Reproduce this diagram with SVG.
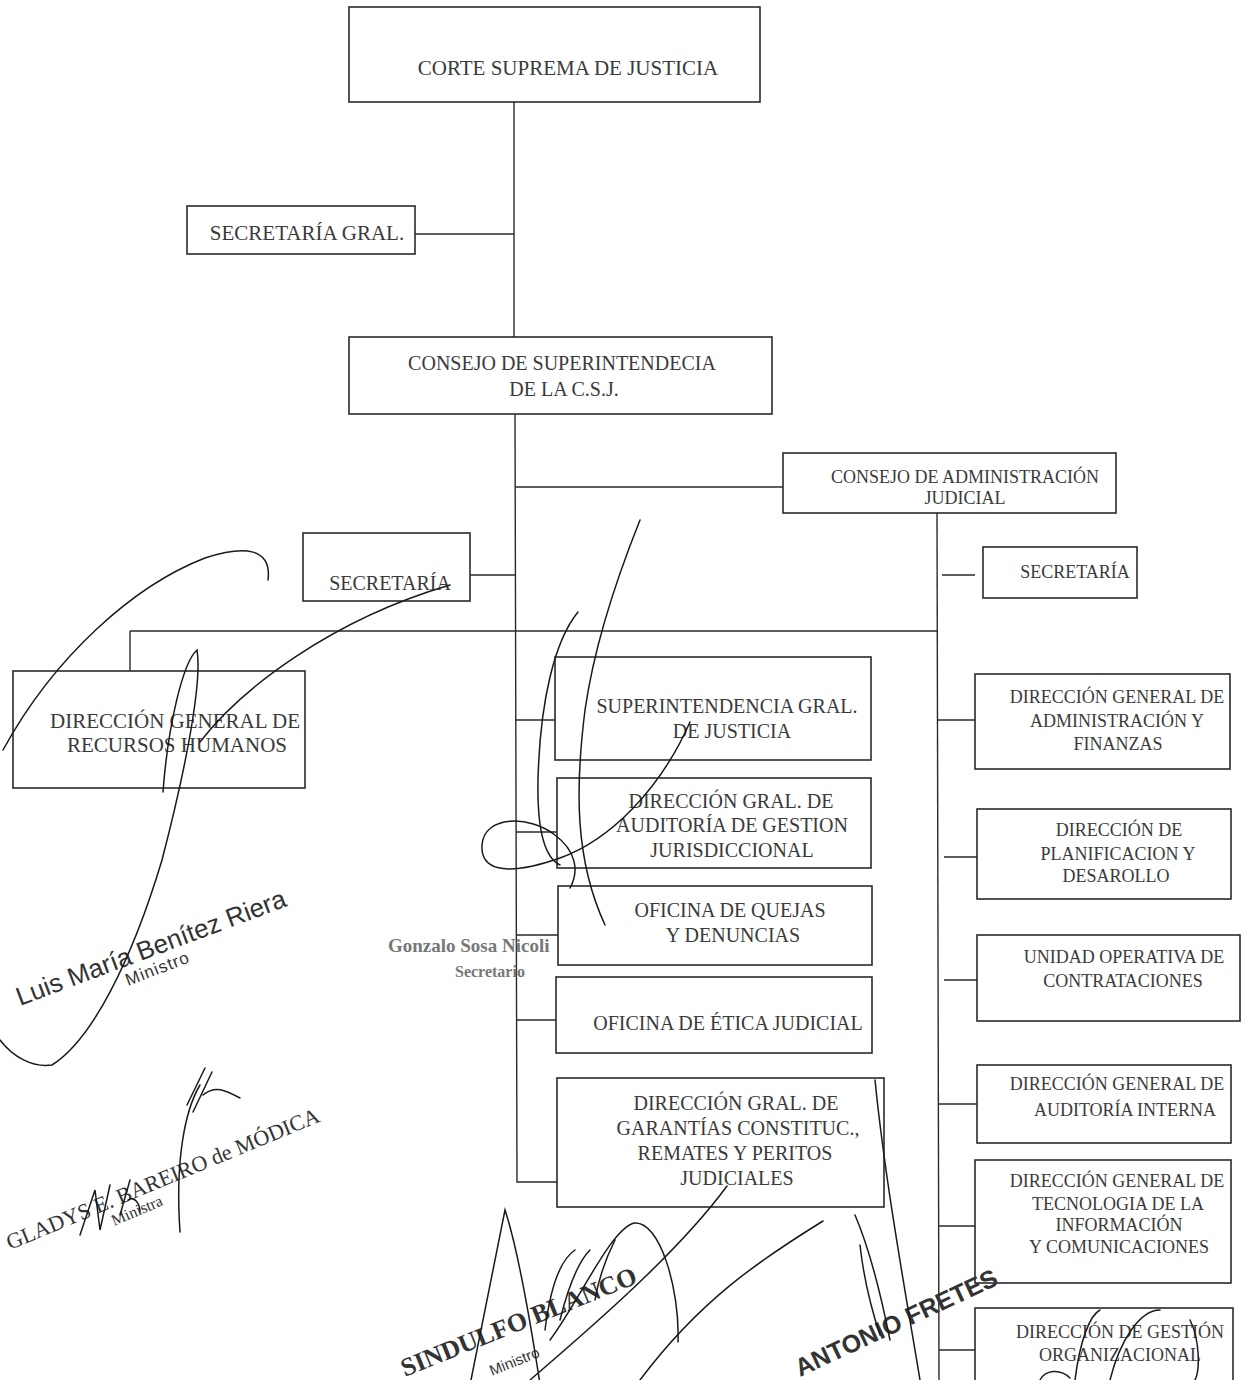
<svg xmlns="http://www.w3.org/2000/svg" width="1247" height="1380" viewBox="0 0 1247 1380">
<style>
.box{fill:#fff;stroke:#2a2a2a;stroke-width:1.6}
.ln{fill:none;stroke:#2a2a2a;stroke-width:1.4}
.t{font-family:"Liberation Serif","Times New Roman",serif;fill:#3a3a3a;text-anchor:middle}
.s21{font-size:21px}
.s20{font-size:20px}
.s18{font-size:18px}
.sig{fill:none;stroke:#1a1a1a;stroke-width:1.5;stroke-linecap:round}
.stamp{font-family:"Liberation Sans",Arial,sans-serif;fill:#333}
.stampS{font-family:"Liberation Serif","Times New Roman",serif;fill:#333}
</style>
<rect width="1247" height="1380" fill="#fff"/>

<g id="connectors">
<line class="ln" x1="514" y1="102" x2="514" y2="337"/>
<line class="ln" x1="415" y1="234" x2="514" y2="234"/>
<polyline class="ln" points="515,414 517,1182 557,1182"/>
<line class="ln" x1="515" y1="487" x2="783" y2="487"/>
<line class="ln" x1="470" y1="575" x2="515" y2="575"/>
<line class="ln" x1="130" y1="631" x2="937" y2="631"/>
<line class="ln" x1="130" y1="631" x2="130" y2="671"/>
<line class="ln" x1="515" y1="720" x2="555" y2="720"/>
<line class="ln" x1="516" y1="832" x2="557" y2="832"/>
<line class="ln" x1="516" y1="935" x2="558" y2="935"/>
<line class="ln" x1="516" y1="1020" x2="556" y2="1020"/>
<line class="ln" x1="937" y1="513" x2="939" y2="1380"/>
<line class="ln" x1="942" y1="575" x2="975" y2="575"/>
<line class="ln" x1="937" y1="720" x2="975" y2="720"/>
<line class="ln" x1="944" y1="857" x2="977" y2="857"/>
<line class="ln" x1="944" y1="980" x2="977" y2="980"/>
<line class="ln" x1="938" y1="1104" x2="977" y2="1104"/>
<line class="ln" x1="938" y1="1226" x2="975" y2="1226"/>
<line class="ln" x1="939" y1="1350" x2="975" y2="1350"/>
</g>

<g id="n-csj"><rect class="box" x="349" y="7" width="411" height="95"/>
<text class="t s21" x="568" y="75">CORTE SUPREMA DE JUSTICIA</text></g>

<g id="n-secgral"><rect class="box" x="187" y="206" width="228" height="48"/>
<text class="t s21" x="307" y="240">SECRETARÍA GRAL.</text></g>

<g id="n-consup"><rect class="box" x="349" y="337" width="423" height="77"/>
<text class="t s20" x="562" y="370">CONSEJO DE SUPERINTENDECIA</text>
<text class="t s20" x="564" y="396">DE LA C.S.J.</text></g>

<g id="n-caj"><rect class="box" x="783" y="453" width="333" height="60"/>
<text class="t s18" x="965" y="483">CONSEJO DE ADMINISTRACIÓN</text>
<text class="t s18" x="965" y="504">JUDICIAL</text></g>

<g id="n-secl"><rect class="box" x="303" y="533" width="167" height="68"/>
<text class="t s20" x="390" y="590">SECRETARÍA</text></g>

<g id="n-secr"><rect class="box" x="983" y="547" width="154" height="51"/>
<text class="t s18" x="1075" y="578">SECRETARÍA</text></g>

<g id="n-rrhh"><rect class="box" x="13" y="671" width="292" height="117"/>
<text class="t s21" x="175" y="728">DIRECCIÓN GENERAL DE</text>
<text class="t s21" x="177" y="752">RECURSOS HUMANOS</text></g>

<g id="n-superint"><rect class="box" x="555" y="657" width="316" height="103"/>
<text class="t s20" x="727" y="713">SUPERINTENDENCIA GRAL.</text>
<text class="t s20" x="732" y="738">DE JUSTICIA</text></g>

<g id="n-audjur"><rect class="box" x="557" y="778" width="314" height="90"/>
<text class="t s20" x="731" y="808">DIRECCIÓN GRAL. DE</text>
<text class="t s20" x="732" y="832">AUDITORÍA DE GESTION</text>
<text class="t s20" x="732" y="857">JURISDICCIONAL</text></g>

<g id="n-quejas"><rect class="box" x="558" y="886" width="314" height="79"/>
<text class="t s20" x="730" y="917">OFICINA DE QUEJAS</text>
<text class="t s20" x="733" y="942">Y DENUNCIAS</text></g>

<g id="n-etica"><rect class="box" x="556" y="977" width="316" height="76"/>
<text class="t s20" x="728" y="1030">OFICINA DE ÉTICA JUDICIAL</text></g>

<g id="n-garant"><rect class="box" x="557" y="1078" width="327" height="129"/>
<text class="t s20" x="736" y="1110">DIRECCIÓN GRAL. DE</text>
<text class="t s20" x="738" y="1135">GARANTÍAS CONSTITUC.,</text>
<text class="t s20" x="735" y="1160">REMATES Y PERITOS</text>
<text class="t s20" x="737" y="1185">JUDICIALES</text></g>

<g id="n-admfin"><rect class="box" x="975" y="674" width="255" height="95"/>
<text class="t s18" x="1117" y="703">DIRECCIÓN GENERAL DE</text>
<text class="t s18" x="1117" y="727">ADMINISTRACIÓN Y</text>
<text class="t s18" x="1118" y="750">FINANZAS</text></g>

<g id="n-planif"><rect class="box" x="977" y="809" width="254" height="90"/>
<text class="t s18" x="1119" y="836">DIRECCIÓN DE</text>
<text class="t s18" x="1118" y="860">PLANIFICACION Y</text>
<text class="t s18" x="1116" y="882">DESAROLLO</text></g>

<g id="n-unidad"><rect class="box" x="977" y="935" width="263" height="86"/>
<text class="t s18" x="1124" y="963">UNIDAD OPERATIVA DE</text>
<text class="t s18" x="1123" y="987">CONTRATACIONES</text></g>

<g id="n-audint"><rect class="box" x="977" y="1065" width="254" height="78"/>
<text class="t s18" x="1117" y="1090">DIRECCIÓN GENERAL DE</text>
<text class="t s18" x="1125" y="1116">AUDITORÍA INTERNA</text></g>

<g id="n-tecno"><rect class="box" x="975" y="1160" width="256" height="123"/>
<text class="t s18" x="1117" y="1187">DIRECCIÓN GENERAL DE</text>
<text class="t s18" x="1118" y="1210">TECNOLOGIA DE LA</text>
<text class="t s18" x="1119" y="1231">INFORMACIÓN</text>
<text class="t s18" x="1119" y="1253">Y COMUNICACIONES</text></g>

<g id="n-gestion"><rect class="box" x="975" y="1308" width="258" height="90"/>
<text class="t s18" x="1120" y="1338">DIRECCIÓN DE GESTIÓN</text>
<text class="t s18" x="1120" y="1361">ORGANIZACIONAL</text></g>

<g id="stamps">
<text class="stamp" font-size="26" transform="translate(20,1006) rotate(-20.5)">Luis María Benítez Riera</text>
<text class="stamp" font-size="17" letter-spacing="1" transform="translate(128,986) rotate(-21)">Ministro</text>
<text class="stampS" font-size="19" font-weight="bold" x="388" y="952" style="fill:#777">Gonzalo Sosa Nicoli</text>
<text class="stampS" font-size="16" font-weight="bold" x="455" y="977" style="fill:#777">Secretario</text>
<text class="stampS" font-size="22" transform="translate(10,1250) rotate(-22.5)">GLADYS E. BAREIRO de MÓDICA</text>
<text class="stampS" font-size="16" transform="translate(114,1226) rotate(-23)">Ministra</text>
<text class="stampS" font-size="26" font-weight="bold" transform="translate(405,1377) rotate(-22)">SINDULFO BLANCO</text>
<text class="stamp" font-size="15" transform="translate(492,1376) rotate(-22)">Ministro</text>
<text class="stamp" font-size="25" font-weight="bold" transform="translate(800,1377) rotate(-25)">ANTONIO FRETES</text>
</g>

<g id="signatures">
<path class="sig" d="M268,580 C272,548 245,545 205,558 C135,585 55,655 3,750"/>
<path class="sig" d="M200,742 C240,690 330,620 450,585"/>
<path class="sig" d="M163,792 C168,725 183,662 197,650 C202,680 188,760 162,860 C132,960 92,1040 52,1065 C32,1068 12,1056 0,1040"/>
<path class="sig" d="M640,520 C620,570 595,640 585,710 C575,790 575,860 605,925"/>
<path class="sig" d="M578,612 C555,640 540,700 538,780 C537,830 545,858 560,865"/>
<path class="sig" d="M690,722 C660,790 610,840 560,858 C520,872 480,877 482,845 C484,815 530,815 555,835 C575,850 580,870 570,888"/>
<path class="sig" d="M187,1105 L205,1068 M193,1112 L212,1072 M203,1095 C215,1085 225,1090 240,1098"/>
<path class="sig" d="M200,1085 C185,1110 175,1160 180,1232"/>
<path class="sig" d="M80,1235 L95,1190 L100,1230 L110,1185 M120,1215 L130,1180 M128,1200 C135,1195 140,1205 140,1212"/>
<path class="sig" d="M471,1380 L505,1210 C515,1240 527,1300 540,1384"/>
<path class="sig" d="M545,1330 C550,1290 560,1260 575,1250 M560,1320 C570,1280 580,1260 590,1250 M595,1300 C600,1270 610,1250 615,1240"/>
<path class="sig" d="M550,1340 C580,1300 610,1230 634,1223 C660,1220 680,1290 678,1342"/>
<path class="sig" stroke-width="1" d="M530,1380 C600,1320 680,1250 727,1186"/>
<path class="sig" stroke-width="1.2" d="M640,1380 C700,1300 760,1260 823,1221"/>
<path class="sig" stroke-width="1" d="M875,1080 C885,1180 905,1290 920,1380"/>
<path class="sig" stroke-width="0.9" d="M855,1215 C870,1250 880,1290 890,1340 M860,1245 C865,1290 875,1320 880,1335"/>
<path class="sig" stroke-width="1.2" d="M1075,1380 C1080,1340 1090,1315 1100,1310 M1110,1380 C1120,1340 1140,1310 1160,1310 M1190,1320 C1200,1340 1200,1370 1195,1380 M1040,1380 C1045,1370 1060,1368 1070,1378"/>
</g>
</svg>
